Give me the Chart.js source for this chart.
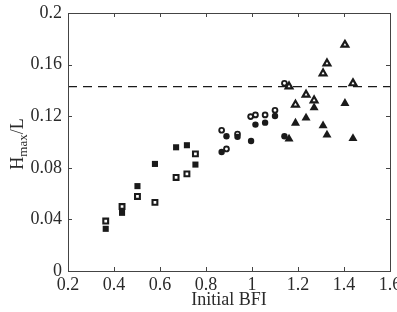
<!DOCTYPE html>
<html>
<head>
<meta charset="utf-8">
<script src="https://cdn.jsdelivr.net/npm/chart.js@4/dist/chart.umd.min.js"></script>
<style>
html,body{margin:0;padding:0;background:#fff;overflow:hidden;}
#wrap{width:397px;height:312px;position:relative;}
</style>
</head>
<body>
<div id="wrap"><canvas id="c" width="397" height="312"></canvas></div>
<script>
const xTicks = [0.2, 0.4, 0.6, 0.8, 1.0, 1.2, 1.4, 1.6];
const yTicks = [0, 0.04, 0.08, 0.12, 0.16, 0.2];
const xTitle = 'Initial BFI';
const yTitleMain = 'H';
const yTitleSub = 'max';
const yTitleTail = '/L';

const filledSquaresX = [0.364, 0.435, 0.502, 0.578, 0.670, 0.717, 0.754];
const filledSquaresY = [0.0327, 0.0451, 0.0658, 0.0830, 0.0959, 0.0975, 0.0825];
const openSquaresX = [0.364, 0.435, 0.502, 0.578, 0.670, 0.717, 0.754];
const openSquaresY = [0.0387, 0.0500, 0.0578, 0.0532, 0.0725, 0.0753, 0.0908];
const filledCirclesX = [0.868, 0.889, 0.937, 0.996, 1.015, 1.057, 1.100, 1.141];
const filledCirclesY = [0.0923, 0.1045, 0.1040, 0.1008, 0.1135, 0.1150, 0.1202, 0.1045];
const openCirclesX = [0.868, 0.889, 0.937, 0.994, 1.015, 1.057, 1.100, 1.141];
const openCirclesY = [0.1091, 0.0946, 0.1062, 0.1197, 0.1210, 0.1210, 0.1246, 0.1455];
const filledTrianglesX = [1.161, 1.189, 1.235, 1.270, 1.309, 1.326, 1.404, 1.439];
const filledTrianglesY = [0.1024, 0.1147, 0.1186, 0.1266, 0.1127, 0.1055, 0.1300, 0.1027];
const openTrianglesX = [1.161, 1.189, 1.235, 1.270, 1.309, 1.326, 1.404, 1.439];
const openTrianglesY = [0.1431, 0.1290, 0.1367, 0.1323, 0.1532, 0.1609, 0.1754, 0.1455];
const thresholdX = [0.2, 1.6];
const thresholdY = [0.143, 0.143];

const INK = '#1a1a1a';
const TEXT = '#2a2a2a';
const FONT = "'Liberation Serif', 'Times New Roman', serif";

function pts(xs, ys){ return xs.map((x,i)=>({x:x, y:ys[i]})); }

function markerSet(xs, ys, style, filled, r, bw){
  return {
    type:'scatter',
    data: pts(xs, ys),
    pointStyle: style,
    pointRadius: r,
    pointHoverRadius: r,
    pointBorderWidth: bw,
    pointBorderColor: INK,
    pointBackgroundColor: filled ? INK : '#ffffff',
    showLine:false
  };
}

const framePlugin = {
  id:'frame',
  afterDatasetsDraw(chart){
    const {ctx, chartArea:a, scales:{x, y}} = chart;
    ctx.save();
    ctx.strokeStyle = '#444';
    ctx.lineWidth = 1;
    ctx.strokeRect(a.left+0.5, a.top+0.5, a.right-a.left, a.bottom-a.top);
    const tl = 4;
    ctx.beginPath();
    xTicks.forEach(v=>{
      const px = Math.round(x.getPixelForValue(v))+0.5;
      ctx.moveTo(px, a.bottom); ctx.lineTo(px, a.bottom-tl);
      ctx.moveTo(px, a.top); ctx.lineTo(px, a.top+tl);
    });
    yTicks.forEach(v=>{
      const py = Math.round(y.getPixelForValue(v))+0.5;
      ctx.moveTo(a.left, py); ctx.lineTo(a.left+tl, py);
      ctx.moveTo(a.right, py); ctx.lineTo(a.right-tl, py);
    });
    ctx.stroke();
    // y-axis title with subscript
    const cy = (a.top + a.bottom)/2 + 2;
    const cx = 23;
    ctx.translate(cx, cy);
    ctx.rotate(-Math.PI/2);
    ctx.fillStyle = TEXT;
    ctx.textBaseline = 'alphabetic';
    ctx.textAlign = 'left';
    const fMain = '18px ' + FONT, fSub = '13px ' + FONT;
    ctx.font = fMain; const wH = ctx.measureText(yTitleMain).width;
    ctx.font = fSub; const wS = ctx.measureText(yTitleSub).width;
    ctx.font = fMain; const wT = ctx.measureText(yTitleTail).width;
    const total = wH + wS + wT;
    let sx = -total/2;
    ctx.font = fMain; ctx.fillText(yTitleMain, sx, 0); sx += wH;
    ctx.font = fSub; ctx.fillText(yTitleSub, sx, 4); sx += wS;
    ctx.font = fMain; ctx.fillText(yTitleTail, sx, 0);
    ctx.restore();
  }
};

new Chart(document.getElementById('c'), {
  data:{
    datasets:[
      {
        type:'line',
        data: pts(thresholdX, thresholdY),
        borderColor: INK,
        borderWidth: 1.3,
        borderDash:[9,6],
        pointRadius:0,
        fill:false
      },
      markerSet(filledSquaresX, filledSquaresY, 'rect', true, 4.3, 0),
      markerSet(openSquaresX, openSquaresY, 'rect', false, 3.4, 2.1),
      markerSet(filledCirclesX, filledCirclesY, 'circle', true, 3.2, 0),
      markerSet(openCirclesX, openCirclesY, 'circle', false, 2.4, 1.9),
      markerSet(filledTrianglesX, filledTrianglesY, 'triangle', true, 5.2, 0),
      markerSet(openTrianglesX, openTrianglesY, 'triangle', false, 3.9, 2.2)
    ]
  },
  options:{
    responsive:false,
    animation:false,
    events:[],
    layout:{padding:{top:13, right:7, left:0, bottom:0}},
    plugins:{legend:{display:false}, tooltip:{enabled:false}},
    scales:{
      x:{
        type:'linear',
        min:0.2, max:1.6,
        grid:{display:false, drawTicks:false},
        border:{display:false},
        afterBuildTicks(s){ s.ticks = xTicks.map(v=>({value:v})); },
        afterFit(s){ s.height = 41; s.paddingRight = 0; s.paddingLeft = 0; },
        ticks:{
          color:TEXT, padding:3, maxRotation:0, autoSkip:false,
          font:{family:FONT, size:18},
          callback:(v)=>String(Number(v.toFixed(2)))
        },
        title:{display:true, text:xTitle, color:TEXT, font:{family:FONT, size:18}, padding:{top:0, bottom:1}}
      },
      y:{
        type:'linear',
        min:0, max:0.2,
        grid:{display:false, drawTicks:false},
        border:{display:false},
        afterBuildTicks(s){ s.ticks = yTicks.map(v=>({value:v})); },
        afterFit(s){ s.width = 68; s.paddingTop = 0; s.paddingBottom = 0; },
        ticks:{
          color:TEXT, padding:6, autoSkip:false,
          font:{family:FONT, size:18},
          callback:(v)=>String(Number(v.toFixed(2)))
        }
      }
    }
  },
  plugins:[framePlugin]
});
</script>
</body>
</html>
